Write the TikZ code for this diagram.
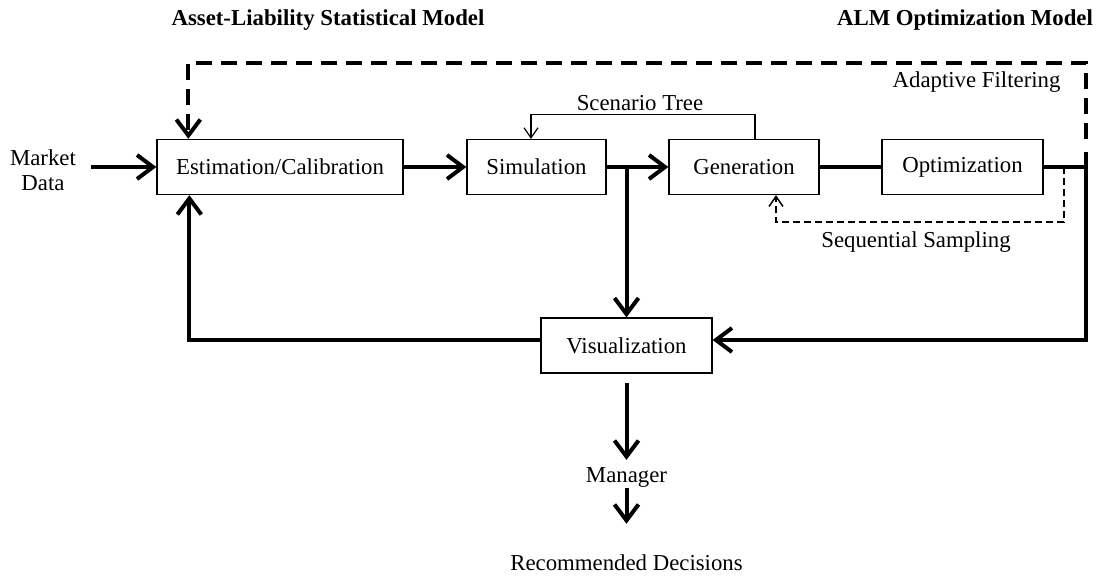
\documentclass[tikz,border=0pt]{standalone}
\usepackage{fontspec}
\setmainfont{Liberation Serif}
\usetikzlibrary{arrows.meta,calc}
\begin{document}
\begin{tikzpicture}[x=1pt,y=-1pt,
  every node/.style={font=\fontsize{22.8}{25}\selectfont},
  hdr/.style={font=\fontsize{22.8}{25}\selectfont\bfseries},
  box/.style={draw,line width=1.3pt,inner sep=0pt,minimum height=55pt},
  thk/.style={line width=4pt},
  thn/.style={line width=1.2pt},
  bigtip/.style={-{Straight Barb[length=16pt,width=24pt]}},
  smalltip/.style={-{Straight Barb[length=10pt,width=14pt]}}]
\useasboundingbox (0,0) rectangle (1096,576);
% headers
\node[hdr] (h1) at (328,20) {Asset-Liability Statistical Model};
\node[hdr] (h2) at (965,20) {ALM Optimization Model};
% boxes
\node[box,minimum width=246pt] (est) at (280,167) {Estimation/Calibration};
\node[box,minimum width=139pt] (sim) at (536.5,167) {Simulation};
\node[box,minimum width=150pt] (gen) at (744,167) {Generation};
\node[box,minimum width=161pt] (opt) at (962.5,167) {Optimization};
\node[box,minimum width=171pt] (viz) at (626.5,345.5) {Visualization};
% text nodes
\node[align=center] (mkt) at (43,170) {Market\\Data};
\node (sct) at (640,103) {Scenario Tree};
\node[anchor=east] (adf) at (1064,82) {Adaptive Filtering};
\node (seq) at (916,242) {Sequential Sampling};
\node[inner sep=0pt] (mgr) at (626.5,477) {Manager};
\node[inner sep=0pt] (rec) at (626.5,563) {Recommended Decisions};
% coordinates
\coordinate (br) at (viz.north |- sim.east);
\coordinate (rj) at (1086,167);
\coordinate (vr) at ($(viz.east)+(0,-5.5)$);
\coordinate (vl) at ($(viz.west)+(0,-5.5)$);
\coordinate (el) at ([xshift=33pt]est.south west);
\coordinate (et) at ([xshift=32pt]est.north west);
\coordinate (tr) at (1086,63);
\coordinate (tl) at (et |- tr);
\coordinate (sj) at (1064,167);
\coordinate (sb) at (1064,222);
\coordinate (gs) at ([xshift=32pt]gen.south);
\coordinate (gn) at ([xshift=11pt]gen.north);
\coordinate (sn) at ([xshift=-5.5pt]sim.north);
% main flow
\draw[thk,bigtip,shorten <=12pt] (mkt.east |- est.west) -- (est.west);
\draw[thk,bigtip] (est.east) -- (sim.west);
\draw[thk,bigtip] (sim.east) -- (gen.west);
\draw[thk,bigtip] (br) -- (viz.north);
\draw[thk] (gen.east) -- (opt.west);
\draw[thk] (opt.east) -- (rj);
\draw[thk,bigtip] ([yshift=15pt]rj) -- (rj |- vr) -- (vr);
\draw[thk,bigtip] (vl) -- (vl -| el) -- (el);
% adaptive filtering
\draw[thk,dash pattern=on 16pt off 9pt,bigtip] ([yshift=28pt]rj) -- (tr) -- (tl) -- (et);
% sequential sampling
\draw[line width=1.5pt,dash pattern=on 7pt off 4pt,smalltip] (sj) -- (sb) -| (gs);
% scenario tree
\draw[thn,smalltip] (gn) -- ++(0,-24) -| (sn);
% down to manager
\draw[thk,bigtip] ([yshift=-9pt]viz.south) -- ([yshift=7pt]mgr.north);
\draw[thk,bigtip] ([yshift=-1pt]mgr.south) -- ([yshift=31pt]rec.north);
\end{tikzpicture}
\end{document}
